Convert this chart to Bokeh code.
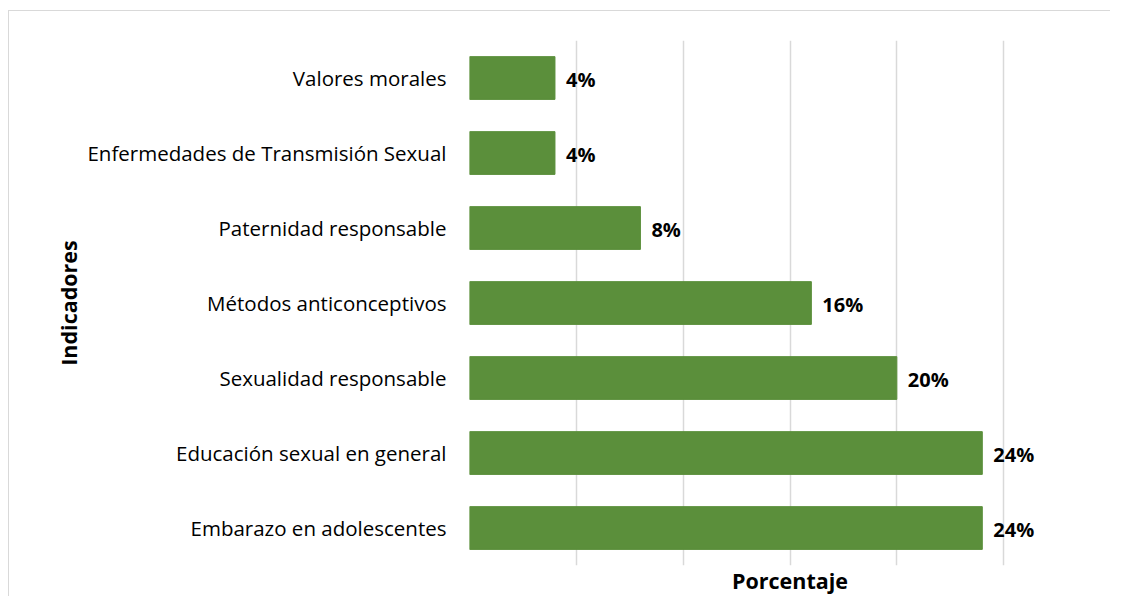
from bokeh.plotting import figure
from bokeh.models import FactorRange, Range1d, FixedTicker, ColumnDataSource, LabelSet, Spacer
from bokeh.layouts import column, row
from bokeh.core.properties import value
from bokeh.embed import file_html
from bokeh.resources import INLINE

categories = ["Embarazo en adolescentes", "Educación sexual en general", "Sexualidad responsable",
              "Métodos anticonceptivos", "Paternidad responsable",
              "Enfermedades de Transmisión Sexual", "Valores morales"]
values = [24, 24, 20, 16, 8, 4, 4]
labels = [f"{v}%" for v in values]
grid_ticks = [0, 5, 10, 15, 20, 25, 30]
x_title = "Porcentaje"
y_title = "Indicadores"

FONT = "Open Sans"
GREEN = "#5b8f3b"

src = ColumnDataSource(dict(cat=categories, val=values, lab=labels))

p = figure(width=1102, height=586, output_backend="svg", toolbar_location=None,
           y_range=FactorRange(factors=categories), x_range=Range1d(0, 30),
           min_border_left=460, min_border_top=29, min_border_right=1, min_border_bottom=29)
p.styles = {"border-top": "1px solid #d9d9d9", "border-left": "1px solid #d9d9d9"}

p.hbar(y="cat", right="val", left=0, height=0.57, source=src, fill_color=GREEN, line_color=GREEN)

p.add_layout(LabelSet(x="val", y="cat", text="lab", source=src, x_offset=11, y_offset=-1,
                      text_baseline="middle", text_align="left", text_font=value(FONT),
                      text_font_style="bold", text_font_size="20px", text_color="#000000"))

p.outline_line_color = None
p.ygrid.grid_line_color = None
p.xgrid.ticker = FixedTicker(ticks=grid_ticks)
p.xgrid.grid_line_color = "#d9d9d9"
p.xgrid.grid_line_width = 1.5

p.xaxis.ticker = FixedTicker(ticks=[])
p.xaxis.axis_line_color = None
p.xaxis.major_tick_line_color = None
p.xaxis.minor_tick_line_color = None
p.xaxis.major_tick_out = 0
p.xaxis.major_tick_in = 0
p.xaxis.minor_tick_out = 0
p.xaxis.major_label_standoff = 0
p.xaxis.major_label_text_font_size = "0px"
p.xaxis.axis_label = x_title
p.xaxis.axis_label_text_font = FONT
p.xaxis.axis_label_text_font_style = "bold"
p.xaxis.axis_label_text_font_size = "21.5px"
p.xaxis.axis_label_text_color = "#000000"
p.xaxis.axis_label_standoff = 0

p.yaxis.axis_line_color = None
p.yaxis.major_tick_line_color = None
p.yaxis.major_tick_out = 0
p.yaxis.major_label_standoff = 23
p.yaxis.major_label_text_font = FONT
p.yaxis.major_label_text_font_size = "20.5px"
p.yaxis.major_label_text_color = "#000000"
p.yaxis.axis_label = y_title
p.yaxis.axis_label_text_font = FONT
p.yaxis.axis_label_text_font_style = "bold"
p.yaxis.axis_label_text_font_size = "21.5px"
p.yaxis.axis_label_text_color = "#000000"
p.yaxis.axis_label_standoff = 1

layout = column(Spacer(width=1110, height=10), row(Spacer(width=8, height=587), p))

open("out.html", "w").write(file_html(layout, INLINE))
